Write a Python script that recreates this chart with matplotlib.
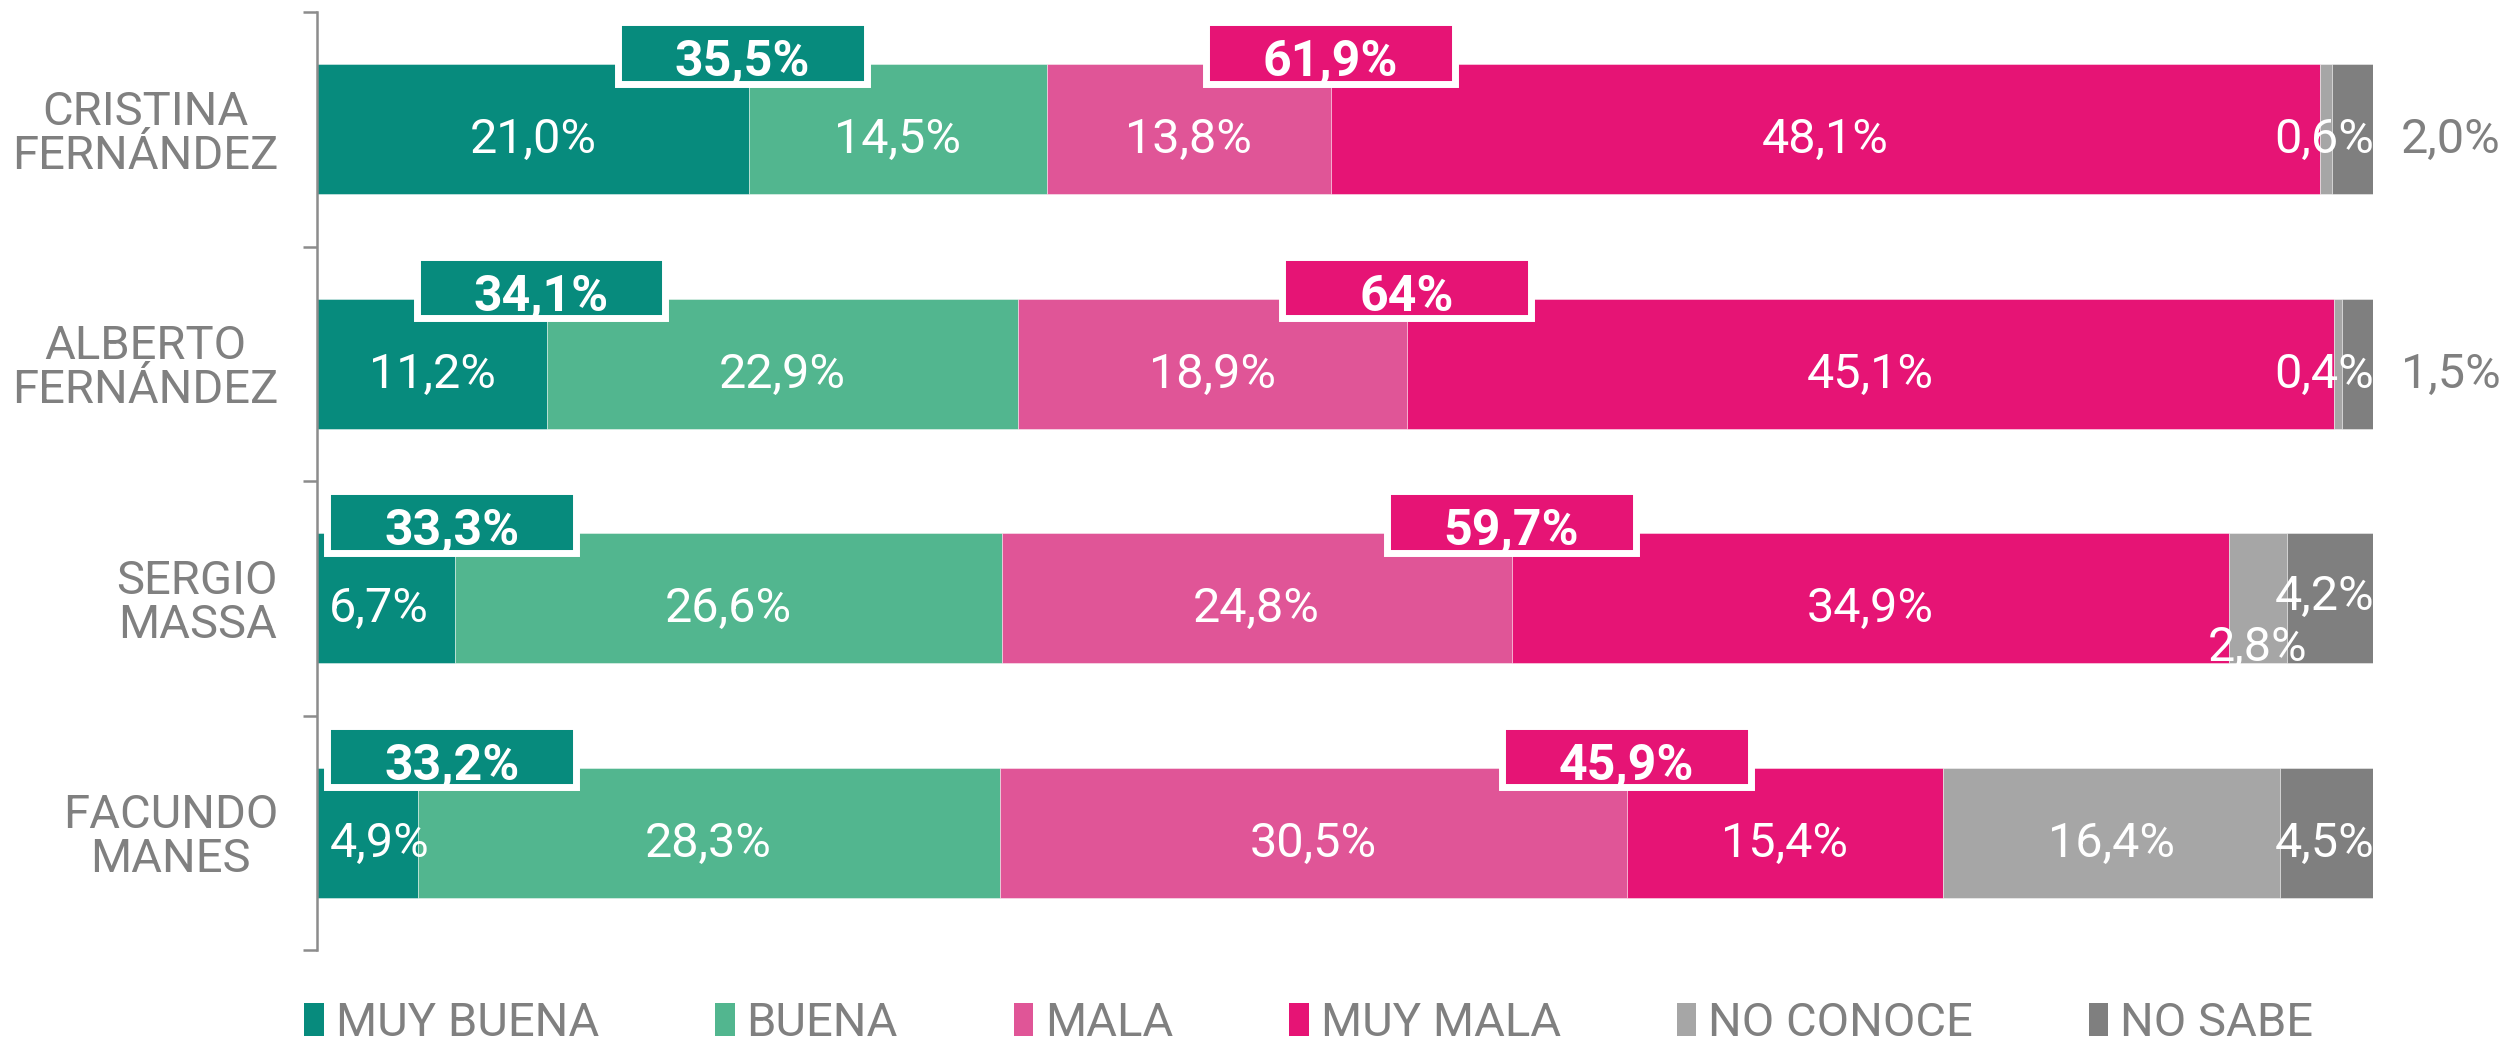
import matplotlib
matplotlib.use("Agg")
import matplotlib.pyplot as plt
from matplotlib.patches import Rectangle, Patch
import numpy as np

# ---------------- data ----------------
candidates = ["CRISTINA\nFERNÁNDEZ", "ALBERTO\nFERNÁNDEZ", "SERGIO\nMASSA", "FACUNDO\nMANES"]
series = ["MUY BUENA", "BUENA", "MALA", "MUY MALA", "NO CONOCE", "NO SABE"]
muy_buena = [21.0, 11.2, 6.7, 4.9]
buena = [14.5, 22.9, 26.6, 28.3]
mala = [13.8, 18.9, 24.8, 30.5]
muy_mala = [48.1, 45.1, 34.9, 15.4]
no_conoce = [0.6, 0.4, 2.8, 16.4]
no_sabe = [2.0, 1.5, 4.2, 4.5]

# ---------------- style ----------------
colors = ["#078B7D", "#52B68F", "#E05597", "#E61475", "#A6A6A6", "#7F7F7F"]
GRAY = "#808080"
FONT = ["Roboto", "DejaVu Sans"]
plt.rcParams["font.family"] = FONT

# label placement overrides: (row, series) -> (mode, dy)
label_mode = {
    (0, 4): ("right_end", 0.0), (0, 5): ("outside", 0.0),
    (1, 4): ("right_end", 0.0), (1, 5): ("outside", 0.0),
    (2, 0): ("left_start", 0.0), (2, 4): ("center", 0.165), (2, 5): ("right_end", -0.05),
    (3, 0): ("left_start", 0.0), (3, 5): ("right_end", 0.0),
}


def fmt(v):
    return f"{v:.1f}".replace(".", ",") + "%"


def fmt_total(v):
    v = round(v, 1)
    if abs(v - round(v)) < 1e-9:
        return f"{int(round(v))}%"
    return f"{v:.1f}".replace(".", ",") + "%"


data = np.array([muy_buena, buena, mala, muy_mala, no_conoce, no_sabe])  # (6, 4)
y = np.arange(len(candidates))

fig = plt.figure(figsize=(25.12, 10.41), dpi=100)
ax = fig.add_axes([317 / 2512, 1 - 950 / 1041, (2373 - 317) / 2512, (950 - 12) / 1041])

bar_h = 0.556
lefts = np.zeros(len(candidates))
for k, name in enumerate(series):
    ax.barh(y, data[k], left=lefts, height=bar_h, color=colors[k], label=name,
            edgecolor=(1, 1, 1, 0.5), linewidth=0.6, zorder=2)
    for i in range(len(candidates)):
        v = data[k][i]
        mode, dy = label_mode.get((i, k), ("center", 0.0))
        yy = y[i] + 0.025 + dy
        color = "white"
        if mode == "center":
            xx, ha = lefts[i] + v / 2, "center"
        elif mode == "right_end":
            xx, ha = 100.05, "right"
        elif mode == "left_start":
            xx, ha = 0.6, "left"
        else:  # outside
            xx, ha, color = 106.2, "right", GRAY
        ax.text(xx, yy, fmt(v), ha=ha, va="center_baseline", color=color,
                fontsize=35, zorder=5, clip_on=False)
    lefts = lefts + data[k]

# summary boxes
box_w, box_h, box_dy = 12.1, 0.262, -0.325
pos_tot = data[0] + data[1]
neg_tot = data[2] + data[3]
for i in range(len(candidates)):
    # positive box, centred at the MUY BUENA / BUENA boundary
    cx = max(data[0][i] - 0.3, box_w / 2 + 0.5)
    cy = y[i] + box_dy
    ax.add_patch(Rectangle((cx - box_w / 2, cy - box_h / 2), box_w, box_h,
                           facecolor=colors[0], edgecolor="white", linewidth=5, zorder=6,
                           clip_on=False))
    ax.text(cx, cy + 0.02, fmt_total(pos_tot[i]), ha="center", va="center_baseline",
            color="white", fontsize=36, fontweight="bold", zorder=7)
    # negative box, centred at the MALA / MUY MALA boundary
    cx = pos_tot[i] + data[2][i]
    ax.add_patch(Rectangle((cx - box_w / 2, cy - box_h / 2), box_w, box_h,
                           facecolor=colors[3], edgecolor="white", linewidth=5, zorder=6,
                           clip_on=False))
    ax.text(cx, cy + 0.02, fmt_total(neg_tot[i]), ha="center", va="center_baseline",
            color="white", fontsize=36, fontweight="bold", zorder=7)

ax.set_xlim(0, 100)
ax.set_ylim(len(candidates) - 0.5, -0.5)

# axis styling
for s in ["top", "right", "bottom"]:
    ax.spines[s].set_visible(False)
ax.spines["left"].set_color("#8C8C8C")
ax.spines["left"].set_linewidth(1.8)
ax.set_xticks([])
ax.set_yticks(y)
ax.set_yticklabels(candidates, fontsize=34, color=GRAY, multialignment="center",
                   linespacing=1.0)
ax.tick_params(axis="y", which="major", length=0, pad=28)
ax.set_yticks(np.arange(-0.5, len(candidates)), minor=True)
ax.tick_params(axis="y", which="minor", length=10, width=1.8, color="#8C8C8C")

# legend
handles = [Patch(facecolor=c, edgecolor="none") for c in colors]
fig.legend(handles, series, loc="center", bbox_to_anchor=(0.521, 0.017), ncol=6,
           frameon=False, fontsize=34, labelcolor=GRAY, handlelength=0.42,
           handleheight=0.7, handletextpad=0.25, columnspacing=2.45)

fig.savefig("out.png", dpi=100, facecolor="white")
